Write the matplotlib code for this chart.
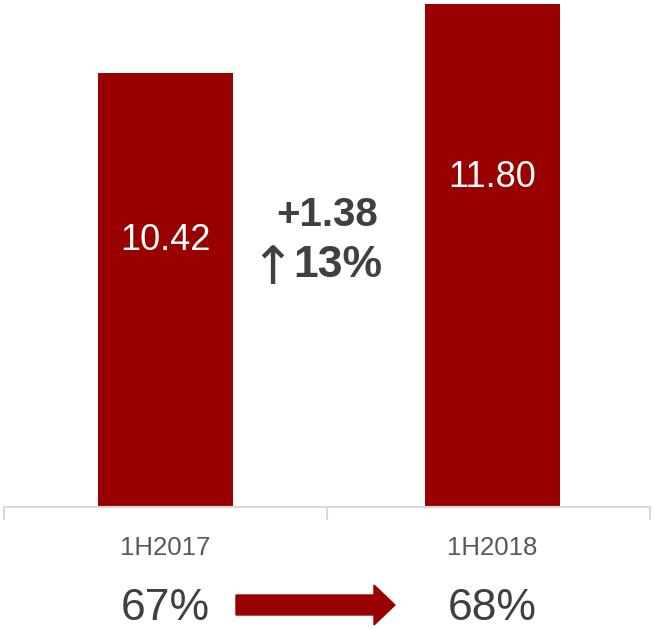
import matplotlib.pyplot as plt
from matplotlib.patches import FancyArrow

plt.rcParams['font.family'] = ['Liberation Sans', 'DejaVu Sans']

periods = ['1H2017', '1H2018']
values = [10.42, 11.80]
shares = ['67%', '68%']
change_abs = '+1.38'
change_pct = '13%'

red = '#990000'
dark = '#404040'
grey = '#595959'

fig = plt.figure(figsize=(6.54, 6.29), dpi=100)
ax = fig.add_axes([4 / 654, 122 / 629, 646 / 654, 507 / 629])

x = range(len(values))
ax.bar(x, values, width=0.413, color=red, zorder=2)
ax.set_xlim(-0.494, 1.482)
ax.set_ylim(1.74, 11.88)

# value labels inside bars
label_y = [7.08, 8.34]
for i, v in enumerate(values):
    ax.text(i, label_y[i], f'{v:.2f}', color='white', fontsize=26,
            ha='center', va='center')

# change annotation between bars
ax.text(0.494, 7.58, change_abs, color=dark, fontsize=29, fontweight='bold',
        ha='center', va='center')
ax.text(0.395, 6.5, '\u2191', color=dark, fontsize=38, family='DejaVu Sans',
        ha='right', va='center')
ax.text(0.39, 6.58, change_pct, color=dark, fontsize=32, fontweight='bold',
        ha='left', va='center')

# axis styling
for s in ['top', 'right', 'left']:
    ax.spines[s].set_visible(False)
ax.spines['bottom'].set_color('#d9d9d9')
ax.spines['bottom'].set_linewidth(1.5)
ax.set_yticks([])
ax.set_xticks([-0.494, 0.494, 1.482])
ax.set_xticklabels([])
ax.tick_params(axis='x', length=9, width=1.5, color='#d9d9d9')
for i, p in enumerate(periods):
    ax.text(i, -0.08, p, color=grey, fontsize=18.5, ha='center', va='center',
            transform=ax.get_xaxis_transform())

# shares row
for i, s in enumerate(shares):
    ax.text(i, -0.2, s, color=dark, fontsize=32, ha='center', va='center',
            transform=ax.get_xaxis_transform())

arrow = FancyArrow(236 / 654, 1 - 605 / 629, (395 - 236) / 654, 0,
                   width=20 / 629, head_width=40 / 629,
                   head_length=21 / 654, length_includes_head=True,
                   color=red, transform=fig.transFigure)
fig.patches.append(arrow)

fig.savefig('out.png', dpi=100)
